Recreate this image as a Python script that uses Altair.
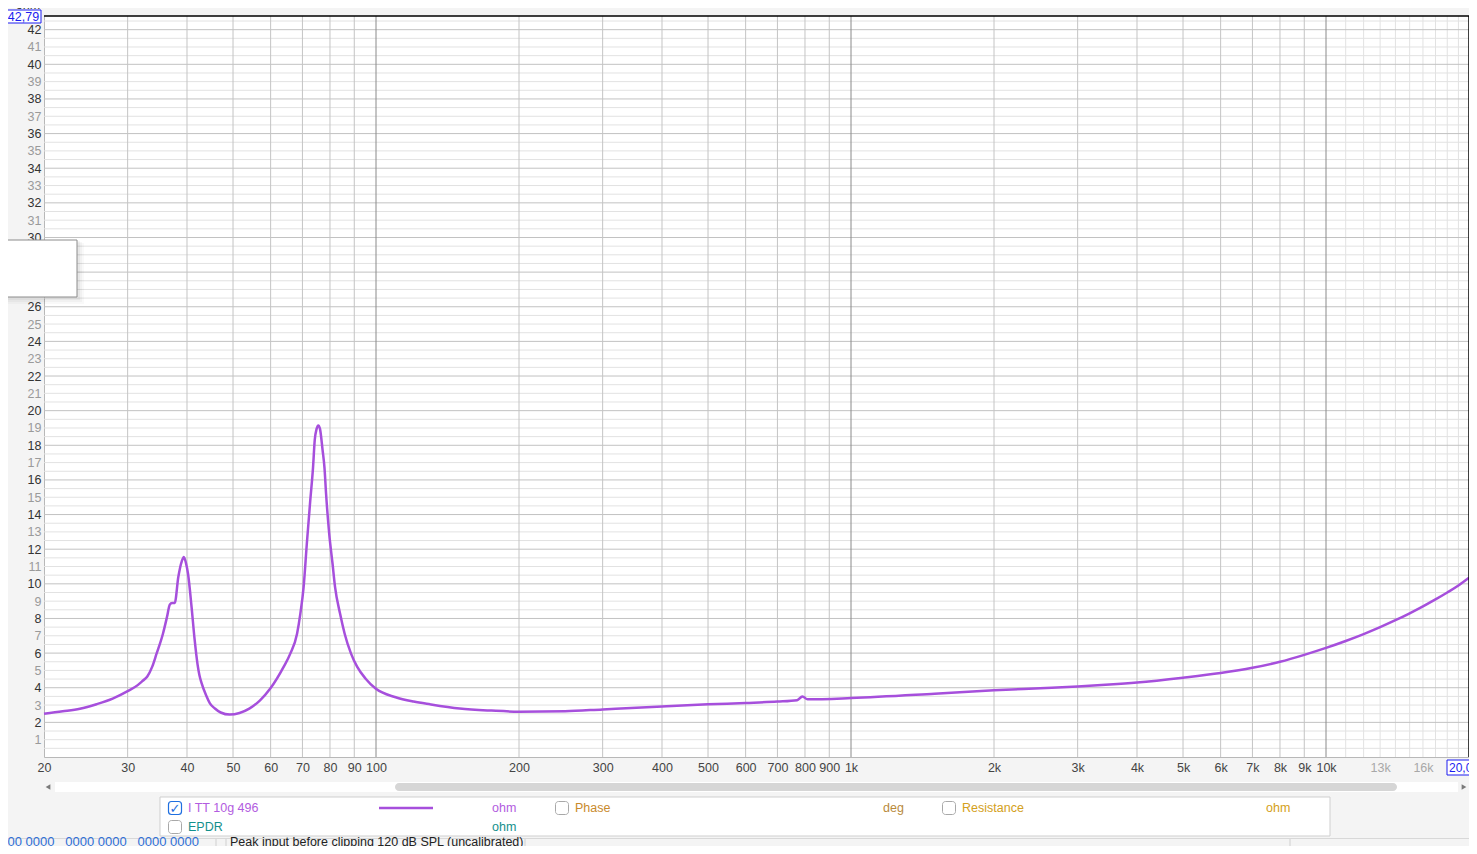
import altair as alt
import pandas as pd

# ---------------- data ----------------
freq_hz = [20, 21.9, 23.8, 25.8, 27.9, 30, 31.5, 32.2, 33, 33.8, 34.5, 35.6, 36.3, 36.8, 37.2, 37.7,
           38.35, 39.0, 39.4, 39.8, 40.2, 40.9, 41.5, 42.1, 42.5, 42.9, 43.9, 44.7, 45.8, 47.1, 49.2,
           51.6, 54.1, 57.0, 59.9, 63.9, 66.0, 68.2, 69.3, 70.4, 71.5, 72.7, 73.7, 74.3,
           75.0, 75.6, 76.2, 77.2, 77.9, 78.5, 79.7, 81.0, 82.0, 84.0, 85.9, 88.6, 91.3,
           95.1, 99.8, 110, 120, 130, 150, 175, 200, 250, 300, 400, 500, 600, 700, 770,
           790, 810, 1000, 1500, 2000, 2500, 3000, 3500, 4000, 5000, 6000, 7000, 8000,
           9000, 10000, 11000, 12000, 13000, 14000, 15000, 16000, 17000, 18000, 19000, 20000]
impedance_ohm = [2.5, 2.64, 2.79, 3.05, 3.37, 3.8, 4.15, 4.38, 4.65, 5.22, 5.95, 7.12, 8.08, 8.8, 8.9, 8.9,
                 10.39, 11.3, 11.55, 11.2, 10.58, 8.66, 6.8, 5.35, 4.7, 4.3, 3.55, 3.1, 2.8, 2.57, 2.45,
                 2.54, 2.79, 3.27, 3.95, 5.2, 5.97, 7.12, 8.28, 9.81, 12.3, 14.8, 16.74, 18.3,
                 18.96, 19.15, 18.96, 17.7, 16.7, 15.2, 12.9, 11.16, 9.81, 8.28, 7.12, 5.97, 5.2,
                 4.52, 3.95, 3.45, 3.2, 3.04, 2.8, 2.68, 2.62, 2.64, 2.75, 2.92, 3.04, 3.12, 3.2, 3.28,
                 3.5, 3.33, 3.4, 3.65, 3.85, 3.97, 4.07, 4.18, 4.3, 4.58, 4.85, 5.15, 5.5,
                 5.9, 6.3, 6.7, 7.1, 7.5, 7.9, 8.3, 8.7, 9.1, 9.5, 9.9, 10.35]

x_tick_values = [20, 30, 40, 50, 60, 70, 80, 90, 100, 200, 300, 400, 500, 600, 700, 800, 900,
                 1000, 2000, 3000, 4000, 5000, 6000, 7000, 8000, 9000, 10000, 13000, 16000]
x_grid_normal = [30, 40, 50, 60, 70, 80, 90, 200, 300, 400, 500, 600, 700, 800, 900,
                 2000, 3000, 4000, 5000, 6000, 7000, 8000, 9000]
x_grid_decade = [100, 1000, 10000]
x_grid_fine = [11000, 12000, 13000, 14000, 15000, 16000, 17000, 18000, 19000]
y_tick_values = list(range(1, 43))
y_grid_even = list(range(2, 43, 2))
y_grid_light = [v / 2 for v in range(1, 86) if v % 4 != 0]

# ---------------- layout ----------------
W, H = 1425, 741
X0, Y0 = 44, 16          # page position of plot origin
FONT = "Liberation Sans"

xs = alt.Scale(type="log", domain=[20, 20000], nice=False)
ys = alt.Scale(domain=[0, 42.79], nice=False, zero=False)

AX = alt.Axis(values=x_tick_values, grid=False, ticks=False, labelPadding=4,
              labelFont=FONT, labelFontSize=12.5, labelFlush=False,
              labelOverlap=False, labelBound=False, domainColor="#b8b8b8",
              labelExpr="datum.value >= 1000 ? format(datum.value/1000, 'd') + 'k' : format(datum.value, 'd')",
              labelColor=alt.condition("datum.value > 10000",
                                       alt.value("#a8a8a8"), alt.value("#444444")))
AY = alt.Axis(values=y_tick_values, grid=False, ticks=False, labelPadding=3,
              labelFont=FONT, labelFontSize=12.5, domainColor="#b8b8b8",
              labelColor=alt.condition("datum.value % 2 == 0",
                                       alt.value("#333333"), alt.value("#9a9a9a")))

one = alt.Data(values=[{"k": 0}])


def px(x):
    return x - X0


def py(y):
    return y - Y0


def rect(x1, x2, y1, y2, fill="white", stroke=None, sw=1, opacity=1, radius=0):
    kw = dict(fill=fill, opacity=opacity, cornerRadius=radius)
    if stroke:
        kw.update(stroke=stroke, strokeWidth=sw)
    return alt.Chart(one).mark_rect(**kw).encode(
        x=alt.value(px(x1)), x2=alt.value(px(x2)), y=alt.value(py(y1)), y2=alt.value(py(y2)))


def text(s, x, y, color="#333333", size=12.5, align="left", baseline="middle", font=FONT):
    return alt.Chart(one).mark_text(align=align, baseline=baseline, fontSize=size, font=font,
                                    color=color).encode(
        x=alt.value(px(x)), y=alt.value(py(y)), text=alt.value(s))


def hline(x1, x2, y, color, sw=1):
    return alt.Chart(one).mark_rule(color=color, strokeWidth=sw).encode(
        x=alt.value(px(x1)), x2=alt.value(px(x2)), y=alt.value(py(y)))


def vline(x, y1, y2, color, sw=1):
    return alt.Chart(one).mark_rule(color=color, strokeWidth=sw).encode(
        x=alt.value(px(x)), y=alt.value(py(y1)), y2=alt.value(py(y2)))


# ---------------- grid ----------------
def vgrid(vals, color):
    return alt.Chart(pd.DataFrame({"f": vals})).mark_rule(color=color, strokeWidth=1).encode(
        x=alt.X("f:Q", scale=xs, axis=AX, title=None))


def hgrid(vals, color):
    return alt.Chart(pd.DataFrame({"z": vals})).mark_rule(color=color, strokeWidth=1).encode(
        y=alt.Y("z:Q", scale=ys, axis=AY, title=None))


grid = [
    hgrid(y_grid_light, "#e2e2e2"),
    vgrid(x_grid_fine, "#e2e2e2"),
    hgrid(y_grid_even, "#c2c2c2"),
    vgrid(x_grid_normal, "#c4c4c4"),
    vgrid(x_grid_decade, "#8a8a8a"),
]

# ---------------- main curve ----------------
df = pd.DataFrame({"f": freq_hz, "z": impedance_ohm})
curve = alt.Chart(df).mark_line(color="#a64fdc", strokeWidth=2.5, interpolate="monotone").encode(
    x=alt.X("f:Q", scale=xs, axis=AX, title=None),
    y=alt.Y("z:Q", scale=ys, axis=AY, title=None),
    order="f:Q",
)

SP = "\u00a0"
status_digits = SP.join(["0000", "0000" + SP * 3 + "0000", "0000" + SP * 3 + "0000", "0000"])

# ---------------- frame and decorations ----------------
deco = [
    hline(X0, X0 + W + 1, Y0, "black", 1.5),
    vline(X0 + W, Y0, Y0 + H, "black", 1.5),
    # top-left labels
    text("ohm", 28, 9, "#333333", 12.5, align="center", baseline="alphabetic"),
    rect(6, 41, 10, 23, fill="white", stroke="#1c1cf0", sw=1),
    text("42,79", 23.5, 16.8, "#1c1cf0", 12.5, align="center"),
    # bottom-right boxed label
    rect(1447, 1472, 760, 775, fill="white", stroke="#1c1cf0", sw=1),
    text("20,0", 1449, 768, "#1c1cf0", 12),
    # popup box with shadow
    rect(0, 84, 243, 304, fill="black", opacity=0.025),
    rect(0, 82, 242, 302, fill="black", opacity=0.03),
    rect(0, 80, 241, 300, fill="black", opacity=0.04),
    rect(-2, 77, 240, 297, fill="white", stroke="#8c8c8c", sw=1),
    rect(0, 2, 278, 288, fill="#46d2f2"),
    # scrollbar
    rect(55, 1458, 782, 792, fill="white"),
    rect(395, 1397, 783, 791, fill="#d6d6d6", radius=4),
    alt.Chart(one).mark_point(shape="triangle-left", filled=True, size=30, color="#7a7a7a",
                              opacity=1).encode(x=alt.value(px(48)), y=alt.value(py(787))),
    alt.Chart(one).mark_point(shape="triangle-right", filled=True, size=30, color="#7a7a7a",
                              opacity=1).encode(x=alt.value(px(1464)), y=alt.value(py(787))),
    # legend box
    rect(160, 1330, 797, 836, fill="white", stroke="#cfcfcf", sw=1),
    rect(168.5, 181.5, 801.5, 814.5, fill="white", stroke="#1f6fe0", sw=1.2, radius=3),
    text("✓", 175, 808.5, "#1f6fe0", 13, align="center", font="DejaVu Sans"),
    text("I TT 10g 496", 188, 808, "#b25ce0"),
    hline(379, 433, 808, "#a64fdc", 2.5),
    text("ohm", 492, 808, "#b25ce0"),
    rect(555.5, 568.5, 801.5, 814.5, fill="white", stroke="#a8a8a8", sw=1, radius=3),
    text("Phase", 575, 808, "#c98a2c"),
    text("deg", 883, 808, "#b98a3c"),
    rect(942.5, 955.5, 801.5, 814.5, fill="white", stroke="#a8a8a8", sw=1, radius=3),
    text("Resistance", 962, 808, "#d4a020"),
    text("ohm", 1266, 808, "#d4a020"),
    rect(168.5, 181.5, 820.5, 833.5, fill="white", stroke="#a8a8a8", sw=1, radius=3),
    text("EPDR", 188, 827, "#14908c"),
    text("ohm", 492, 827, "#14908c"),
    # status bar
    hline(0, 1480, 838.5, "#d8d8d8"),
    vline(216, 839, 854, "#d0d0d0"),
    vline(226, 839, 854, "#d0d0d0"),
    vline(525, 839, 854, "#d0d0d0"),
    vline(1290, 839, 854, "#d0d0d0"),
    text(status_digits, -7, 846, "#2f6fd6", 13, baseline="alphabetic"),
    text("Peak input before clipping 120 dB SPL (uncalibrated)", 230, 846, "#222222", 12.5,
         baseline="alphabetic"),
]

chart = alt.layer(*grid, curve, *deco).properties(
    width=W, height=H,
    autosize=alt.AutoSizeParams(type="none"),
    padding={"left": X0 - 8, "top": Y0 - 8, "right": 0, "bottom": 838 - (Y0 - 8) - H},
    background="#f4f4f4",
).configure_view(fill="white", stroke=None)

chart.save("out.html", embed_options={"renderer": "svg", "actions": False})
